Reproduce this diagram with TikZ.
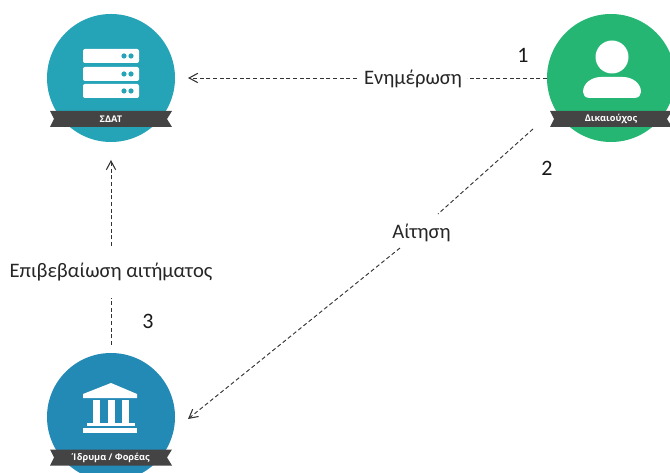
\documentclass[tikz,border=0pt]{standalone}
\usepackage{fontspec}
\setmainfont{Open Sans}
\newfontfamily\labelfont{Carlito}
\usetikzlibrary{arrows.meta}
\definecolor{cteal}{HTML}{25A3B7}
\definecolor{cgreen}{HTML}{26B674}
\definecolor{cblue}{HTML}{2389B5}
\definecolor{cribbon}{HTML}{444444}
\tikzset{
  disc/.style={circle,minimum size=96pt,inner sep=0pt,outer sep=0pt},
  lbl/.style={font=\labelfont\fontsize{15.45pt}{18pt}\selectfont,text=black!85,inner sep=0pt},
  num/.style={font=\labelfont\fontsize{16.5pt}{19pt}\selectfont,text=black!90,inner sep=0pt},
  flow/.style={draw=black!80,line width=0.7pt,dash pattern=on 3pt off 2pt},
  flowtip/.style={flow,-{Straight Barb[length=6.5pt,width=7pt,line width=0.8pt]}},
  ribtext/.style={font=\fontsize{6.9pt}{8pt}\selectfont\bfseries,text=white,inner sep=0pt},
  icon/.style={fill=white,draw=none}
}
\newcommand{\ribbon}[2]{%
  \fill[cribbon] (#1-61,#2-8) -- (#1+61,#2-8) -- (#1+56,#2) -- (#1+61,#2+8) -- (#1-61,#2+8) -- (#1-57,#2) -- cycle;}
\begin{document}
\begin{tikzpicture}[x=0.75pt,y=-0.75pt]
\useasboundingbox (0,0) rectangle (670,473);
\clip (0,0) rectangle (670,473);
% discs
\node[disc,fill=cteal] (sdat) at (111,78) {};
\node[disc,fill=cgreen] (benef) at (611,78) {};
\node[disc,fill=cblue] (inst) at (111,417) {};
% ribbons
\ribbon{111}{119}
\ribbon{611}{119}
\ribbon{111}{457.5}
\node[ribtext] (tsdat) at (111,119) {ΣΔΑΤ};
\node[ribtext] (tbenef) at (611,119) {Δικαιούχος};
\node[ribtext] (tinst) at (111,457.5) {Ίδρυμα / Φορέας};
% server icon
\foreach \yy in {49,67,84}{
  \fill[icon,rounded corners=1.5pt] (83,\yy) rectangle (139,\yy+14);
  \fill[cteal] (124,\yy+7) circle (2.6);
  \fill[cteal] (131,\yy+7) circle (2.6);
}
% person icon
\fill[icon] (612,57) circle (16.5);
\fill[icon] (590,98) .. controls (585,98) and (583,95) .. (583,92)
  .. controls (583,83) and (592,77) .. (601,77) -- (623,77)
  .. controls (632,77) and (641,83) .. (641,92)
  .. controls (641,95) and (639,98) .. (634,98) -- cycle;
% temple icon
\fill[icon] (111,383) -- (137,394) -- (137,398) -- (83,398) -- (83,394) -- cycle;
\fill[icon] (93,400) rectangle (100,423);
\fill[icon] (107.5,400) rectangle (114.5,423);
\fill[icon] (122,400) rectangle (129,423);
\fill[icon] (87,423) rectangle (135,426);
\fill[icon] (83,428) rectangle (137,433);
% free connector ends
\coordinate (dstart) at (533,129);
\coordinate (dup) at (438,214);
\coordinate (dlow) at (400,248);
\coordinate (dend) at (188,419);
\coordinate (hleft) at (357,78);
\coordinate (hright) at (467,78);
\coordinate (htip) at (188,78);
\coordinate (vup) at (111,246);
\coordinate (vlow) at (111,298);
\coordinate (vtip) at (111,160);
% connectors
\draw[flow] (benef.west) -- (hright);
\draw[flowtip] (hleft) -- (htip);
\draw[flow] (dstart) -- (dup);
\draw[flowtip] (dlow) -- (dend);
\draw[flow,shorten <=6pt] (inst.north) -- (vlow);
\draw[flowtip] (vup) -- (vtip);
% labels
\node[lbl] (lupd) at (413,79) {Ενημέρωση};
\node[lbl] (lreq) at (421.5,233) {Αίτηση};
\node[lbl] (lconf) at (111,272) {Επιβεβαίωση αιτήματος};
\node[num] (n1) at (523,55) {1};
\node[num] (n2) at (547,168) {2};
\node[num] (n3) at (148,321) {3};
\end{tikzpicture}
\end{document}
